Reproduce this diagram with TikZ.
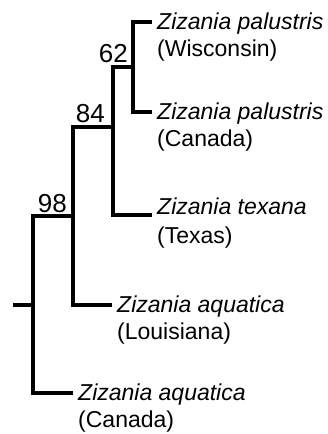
\documentclass[tikz,border=0pt]{standalone}
\usepackage{fontspec}
\setmainfont{Liberation Sans}
\usetikzlibrary{calc}
\begin{document}
\begin{tikzpicture}[x=1pt,y=-1pt,
  br/.style={line width=3.5pt, line join=miter, line cap=butt},
  num/.style={inner sep=0pt, font=\fontsize{26}{30}\selectfont, anchor=base east},
  sp/.style={inner sep=0pt, font=\fontsize{23}{27}\selectfont\itshape, anchor=base west},
  loc/.style={inner sep=0pt, font=\fontsize{23}{27}\selectfont, anchor=base west}]
\useasboundingbox (0,0) rectangle (327,434);
% internal nodes
\coordinate (root) at (13,305);
\coordinate (n98) at (33,305);
\coordinate (n84) at (73,216);
\coordinate (n62) at (113,127);
\coordinate (np) at (133,67);
% leaf ends
\coordinate (lW) at (152,22);
\coordinate (lC) at (152,112);
\coordinate (lT) at (152,215);
\coordinate (lL) at (112,305);
\coordinate (lCa) at (73,393);
% branches
\draw[br] (lW) -| (np) |- (lC);
\draw[br] (np) -| (n62) |- (lT);
\draw[br] (n62) -| (n84) |- (lL);
\draw[br] (n84) -| (n98) |- (lCa);
\draw[br] (n98) -- (root);
% support values
\node[num] (b62) at ($(np)+(-5,-5)$) {62};
\node[num] (b84) at ($(n62)+(-8,-5)$) {84};
\node[num] (b98) at ($(n84)+(-6,-4)$) {98};
% leaf labels
\node[sp] (sW) at ($(lW)+(5,7)$) {Zizania palustris};
\node[loc] (tW) at ($(sW.base west)+(0,27)$) {(Wisconsin)};
\node[sp] (sC) at ($(lC)+(5,7)$) {Zizania palustris};
\node[loc] (tC) at ($(sC.base west)+(0,27)$) {(Canada)};
\node[sp] (sT) at ($(lT)+(5,-1)$) {Zizania texana};
\node[loc] (tT) at ($(sT.base west)+(0,29)$) {(Texas)};
\node[sp] (sL) at ($(lL)+(5,7)$) {Zizania aquatica};
\node[loc] (tL) at ($(sL.base west)+(0,27)$) {(Louisiana)};
\node[sp] (sCa) at ($(lCa)+(5,7)$) {Zizania aquatica};
\node[loc] (tCa) at ($(sCa.base west)+(0,27)$) {(Canada)};
\end{tikzpicture}
\end{document}
